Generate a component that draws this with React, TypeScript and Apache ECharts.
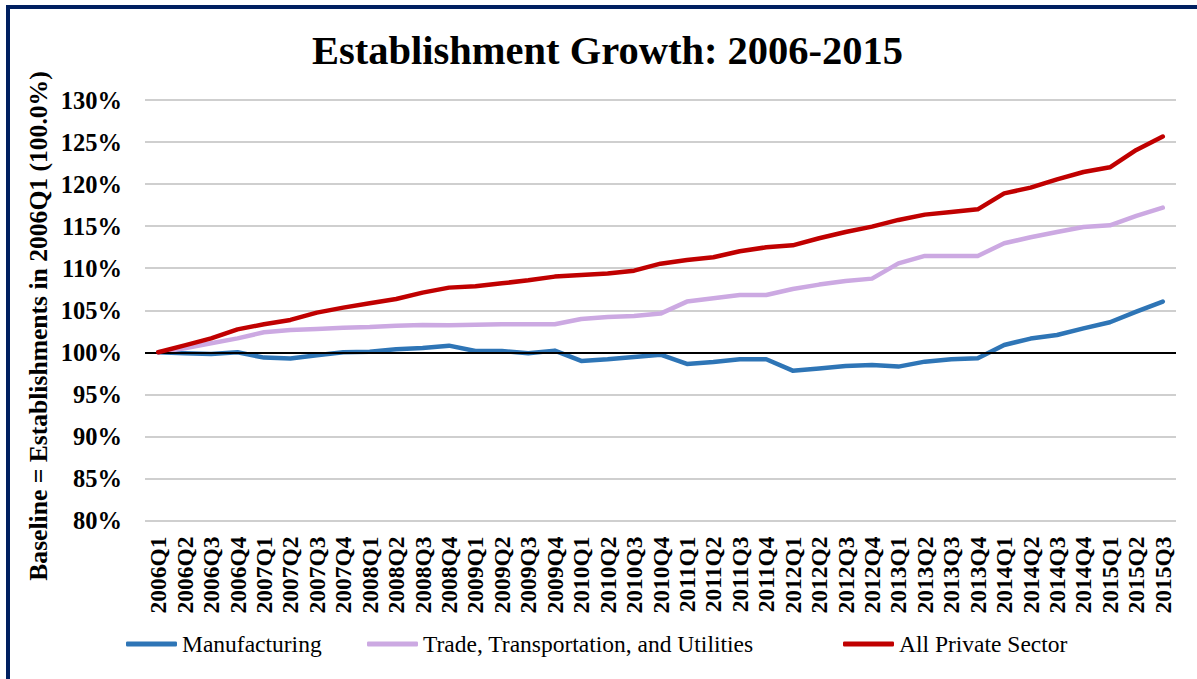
import React, { useEffect, useRef } from "react";
import * as echarts from "echarts";

const quarters = [
  "2006Q1", "2006Q2", "2006Q3", "2006Q4", "2007Q1", "2007Q2", "2007Q3", "2007Q4",
  "2008Q1", "2008Q2", "2008Q3", "2008Q4", "2009Q1", "2009Q2", "2009Q3", "2009Q4",
  "2010Q1", "2010Q2", "2010Q3", "2010Q4", "2011Q1", "2011Q2", "2011Q3", "2011Q4",
  "2012Q1", "2012Q2", "2012Q3", "2012Q4", "2013Q1", "2013Q2", "2013Q3", "2013Q4",
  "2014Q1", "2014Q2", "2014Q3", "2014Q4", "2015Q1", "2015Q2", "2015Q3",
];

const manufacturing = [
  100.0, 99.88, 99.8, 100.0, 99.37, 99.25, 99.64, 100.0,
  100.08, 100.36, 100.52, 100.79, 100.16, 100.16, 99.88, 100.2,
  98.97, 99.17, 99.45, 99.72, 98.61, 98.85, 99.17, 99.17,
  97.82, 98.06, 98.37, 98.49, 98.3, 98.89, 99.17, 99.29,
  100.87, 101.63, 102.06, 102.85, 103.57, 104.84, 106.03,
];

const tradeTransportUtilities = [
  100.0, 100.48, 101.07, 101.66, 102.38, 102.66, 102.77, 102.93,
  103.0, 103.17, 103.25, 103.21, 103.29, 103.33, 103.33, 103.33,
  103.96, 104.2, 104.32, 104.6, 106.03, 106.42, 106.82, 106.82,
  107.53, 108.05, 108.48, 108.76, 110.58, 111.46, 111.46, 111.46,
  112.96, 113.68, 114.31, 114.9, 115.1, 116.21, 117.2,
];

const allPrivateSector = [
  100.0, 100.83, 101.66, 102.73, 103.33, 103.85, 104.72, 105.31,
  105.83, 106.34, 107.1, 107.69, 107.85, 108.2, 108.56, 109.0,
  109.2, 109.36, 109.71, 110.54, 110.98, 111.3, 112.01, 112.49,
  112.72, 113.56, 114.31, 114.94, 115.74, 116.37, 116.69, 117.0,
  118.9, 119.58, 120.57, 121.44, 122.0, 124.06, 125.65,
];

const seriesNames = ["Manufacturing", "Trade, Transportation, and Utilities", "All Private Sector"];
const seriesColors = ["#2e75b6", "#cca9e2", "#c00000"];
const yMin = 80;
const yMax = 130;
const yStep = 5;
const baseline = 100;

const SERIF = "'Liberation Serif', 'Times New Roman', serif";

export default function App() {
  const ref = useRef<HTMLDivElement>(null);

  useEffect(() => {
    document.body.style.margin = "0";
    if (!ref.current) return;
    const chart = echarts.init(ref.current, null, { renderer: "svg" });
    const seriesData = [manufacturing, tradeTransportUtilities, allPrivateSector];
    const legendLefts = [126, 367, 843];

    chart.setOption({
      animation: false,
      backgroundColor: "#ffffff",
      title: {
        text: "Establishment Growth: 2006-2015",
        left: 312,
        top: 30,
        padding: 0,
        textStyle: { fontFamily: SERIF, fontWeight: "bold", fontSize: 40.5, color: "#000" },
      },
      legend: seriesNames.map((n, i) => ({
        data: [n],
        left: legendLefts[i],
        top: 632,
        padding: 0,
        icon: "roundRect",
        itemWidth: 51,
        itemHeight: 5,
        textStyle: { fontFamily: SERIF, fontSize: 23.5, color: "#000" },
        selectedMode: false,
      })),
      grid: { left: 145, right: 21, top: 100, bottom: 158.5, containLabel: false },
      xAxis: {
        type: "category",
        data: quarters,
        boundaryGap: true,
        axisLine: { show: false },
        axisTick: { show: false },
        axisLabel: {
          rotate: 90,
          interval: 0,
          margin: 16,
          fontFamily: SERIF,
          fontWeight: "bold",
          fontSize: 23.5,
          color: "#000",
        },
      },
      yAxis: {
        type: "value",
        min: yMin,
        max: yMax,
        interval: yStep,
        axisLine: { show: false },
        axisTick: { show: false },
        axisLabel: {
          formatter: "{value}%",
          margin: 23,
          fontFamily: SERIF,
          fontWeight: "bold",
          fontSize: 24.5,
          color: "#000",
        },
        splitLine: { lineStyle: { color: "#bfbfbf", width: 1.5 } },
      },
      graphic: [
        {
          type: "rect",
          shape: { x: 8, y: 7, width: 1400, height: 900 },
          style: { fill: "none", stroke: "#002060", lineWidth: 4 },
          silent: true,
        },
        {
          type: "text",
          x: 38,
          y: 326,
          rotation: Math.PI / 2,
          style: {
            text: "Baseline = Establishments in 2006Q1 (100.0%)",
            fontFamily: SERIF,
            fontWeight: "bold",
            fontSize: 25.6,
            fill: "#000",
            align: "center",
            verticalAlign: "middle",
          },
        },
      ],
      series: [
        {
          name: "_baseline",
          type: "line",
          data: quarters.map(() => null),
          z: 1,
          silent: true,
          markLine: {
            silent: true,
            symbol: ["none", "none"],
            label: { show: false },
            lineStyle: { color: "#000", width: 2, type: "solid" },
            data: [{ yAxis: baseline }],
          },
        },
        ...seriesNames.map((n, i) => ({
          name: n,
          type: "line",
          data: seriesData[i],
          z: 3 + i,
          showSymbol: false,
          symbol: "none",
          color: seriesColors[i],
          lineStyle: { color: seriesColors[i], width: 4.5, cap: "round", join: "round" },
        })),
      ],
    });
    return () => chart.dispose();
  }, []);

  return <div ref={ref} style={{ width: 1197, height: 679 }} />;
}
